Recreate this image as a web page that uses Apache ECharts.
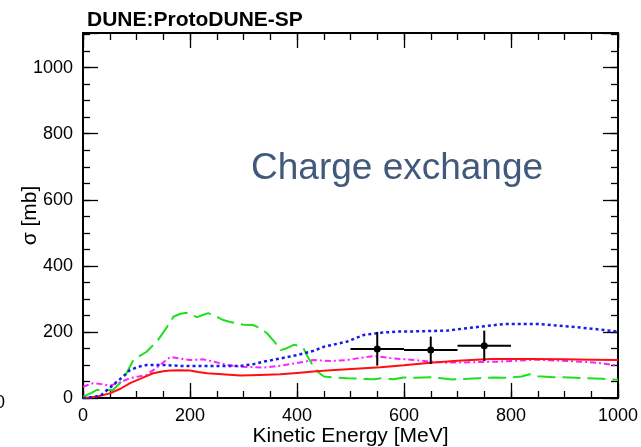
<!DOCTYPE html>
<html><head><meta charset="utf-8">
<script src="https://cdn.jsdelivr.net/npm/echarts@6/dist/echarts.min.js"></script>
<style>html,body{margin:0;padding:0;background:#fff}#c{width:641px;height:447px}</style>
</head><body><div id="c"></div>
<script>
const xTicks = [0, 200, 400, 600, 800, 1000];
const yTicks = [0, 200, 400, 600, 800, 1000];
const redLine = [[0,0],[25,4],[50,14],[70,28],[88,45],[110,60],[131,75],[150,81],[163,83],[180,84],[200,83],[215,79],[232,75],[260,72],[294,68],[330,70],[369,72],[400,76],[431,80],[463,84],[494,87],[525,90],[556,93],[600,99],[650,107],[700,113],[762,118],[800,118],[837,118],[900,117],[950,116],[1000,115]];
const blueLine = [[0,0],[20,3],[35,10],[56,39],[75,65],[88,85],[105,95],[119,100],[150,100],[182,97],[220,97],[244,97],[294,97],[320,103],[337,110],[370,120],[400,130],[431,143],[450,155],[494,171],[525,191],[560,198],[587,201],[630,202],[681,204],[710,210],[743,216],[787,224],[820,224],[850,224],[880,220],[912,216],[950,210],[1000,201]];
const magentaLine = [[0,34],[19,45],[35,42],[50,37],[70,48],[88,60],[119,70],[140,95],[163,124],[180,120],[200,115],[225,117],[244,110],[270,100],[294,95],[337,92],[370,98],[400,106],[431,115],[463,112],[494,115],[520,122],[544,127],[580,120],[619,115],[650,110],[681,107],[720,108],[775,110],[810,113],[850,116],[890,113],[931,110],[965,106],[1000,98]];
const greenLine = [[0,4],[15,15],[25,24],[56,24],[75,55],[94,115],[119,140],[140,175],[155,210],[169,246],[182,255],[194,258],[205,250],[213,245],[225,252],[234,257],[248,248],[262,236],[275,230],[287,226],[300,222],[318,221],[330,212],[344,196],[358,170],[369,145],[380,150],[394,161],[404,158],[412,151],[420,125],[431,95],[440,78],[450,65],[470,62],[494,60],[520,58],[544,57],[560,60],[580,57],[600,62],[620,61],[650,63],[670,60],[690,56],[720,58],[740,60],[770,62],[790,61],[820,65],[835,72],[850,66],[880,63],[910,62],[940,60],[970,58],[1000,55]];
// [x, y, xHalfWidth, yErrLow, yErrHigh]
const dataPoints = [[550,148,50,50,52],[650,145,50,42,41],[750,158,50,46,46]];

const FONT = 'Liberation Sans';
const chart = echarts.init(document.getElementById('c'), null, {renderer:'canvas'});
const tickColor = '#000';
const minorTick = {show:true, inside:true, length:7, lineStyle:{color:tickColor, width:1.3}};
const hiddenLine = {show:false, onZero:false};
function axisBase(extra){ return Object.assign({
  type:'value', min:0, splitLine:{show:false}, nameMoveOverlap:false,
  axisLine:{show:true, onZero:false, lineStyle:{color:'#000', width:2}},
  axisTick:{show:true, inside:true, length:15, lineStyle:{color:tickColor, width:1.3}},
  axisLabel:{show:false}
}, extra); }

chart.setOption({
  animation:false,
  grid:{left:83, right:23, top:33, bottom:49, containLabel:false, outerBoundsMode:'none'},
  xAxis:[
    axisBase({position:'bottom', max:1000, interval:200,
      axisLabel:{show:true, color:'#000', fontFamily:FONT, fontSize:18, margin:9,
        formatter:v=> xTicks.includes(v)? String(v):''},
      name:'Kinetic Energy [MeV]', nameLocation:'middle', nameGap:28,
      nameTextStyle:{color:'#000', fontFamily:FONT, fontSize:21}}),
    axisBase({position:'bottom', max:1000, interval:50, axisLine:hiddenLine, axisTick:minorTick}),
    axisBase({position:'top', max:1000, interval:200}),
    axisBase({position:'top', max:1000, interval:50, axisLine:hiddenLine, axisTick:minorTick})
  ],
  yAxis:[
    axisBase({position:'left', max:1105, interval:200,
      axisLabel:{show:true, color:'#000', fontFamily:FONT, fontSize:18, margin:10,
        formatter:v=> yTicks.includes(v)? String(v):''},
      name:'σ [mb]', nameLocation:'middle', nameGap:42, nameRotate:90,
      nameTextStyle:{color:'#000', fontFamily:FONT, fontSize:21}}),
    axisBase({position:'left', max:1105, interval:50, axisLine:hiddenLine, axisTick:minorTick}),
    axisBase({position:'right', max:1105, interval:200}),
    axisBase({position:'right', max:1105, interval:50, axisLine:hiddenLine, axisTick:minorTick})
  ],
  title:{text:'DUNE:ProtoDUNE-SP', left:82, top:5,
    textStyle:{fontFamily:FONT, fontWeight:'bold', fontSize:21, color:'#000'}},
  graphic:[
    {type:'text', left:251, top:150, style:{text:'Charge exchange', font:'37px "Liberation Sans"', fill:'#41597a'}},
    {type:'text', left:-5, top:394, style:{text:'0', font:'18px "Liberation Sans"', fill:'#000'}}
  ],
  series:[
    {type:'line', name:'green', data:greenLine, showSymbol:false, symbol:'none', clip:true,
      lineStyle:{color:'#1fe01f', width:2, type:[18,7]}, z:3},
    {type:'line', name:'magenta', data:magentaLine, showSymbol:false, symbol:'none', clip:true,
      lineStyle:{color:'#ff20ff', width:2, type:[6,3,2,3]}, z:3},
    {type:'line', name:'red', data:redLine, showSymbol:false, symbol:'none', clip:true,
      lineStyle:{color:'#ff1010', width:2}, z:4},
    {type:'line', name:'blue', data:blueLine, showSymbol:false, symbol:'none', clip:true,
      lineStyle:{color:'#1a1aee', width:2.5, type:[3,3]}, z:4},
    {type:'custom', name:'data', data:dataPoints, z:10,
      renderItem:function(params, api){
        const x=api.value(0), y=api.value(1), dx=api.value(2), lo=api.value(3), hi=api.value(4);
        const c=api.coord([x,y]), l=api.coord([x-dx,y]), r=api.coord([x+dx,y]);
        const b=api.coord([x,y-lo]), t=api.coord([x,y+hi]);
        const st={stroke:'#000', lineWidth:2};
        return {type:'group', children:[
          {type:'line', shape:{x1:l[0],y1:l[1],x2:r[0],y2:r[1]}, style:st},
          {type:'line', shape:{x1:b[0],y1:b[1],x2:t[0],y2:t[1]}, style:st},
          {type:'circle', shape:{cx:c[0],cy:c[1],r:3.5}, style:{fill:'#000'}}
        ]};
      }}
  ]
});
</script></body></html>
